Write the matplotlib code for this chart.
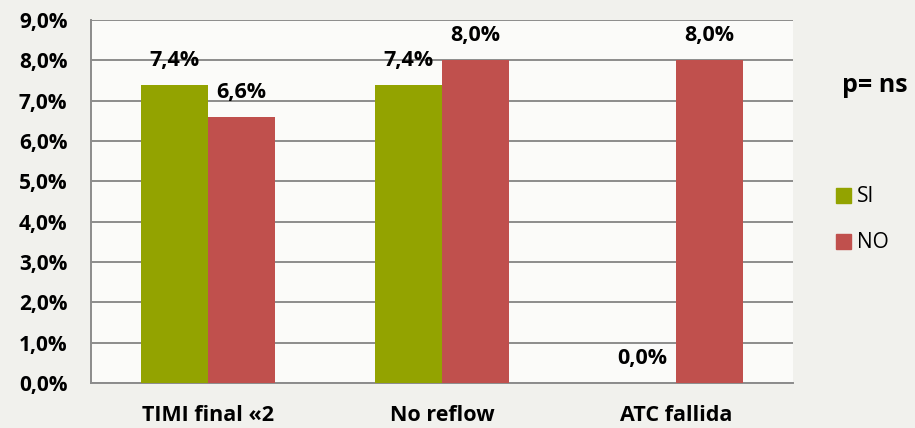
import numpy as np
import matplotlib
matplotlib.use("Agg")
import matplotlib.pyplot as plt
from matplotlib.patches import Patch

categories = ["TIMI final «2", "No reflow", "ATC fallida"]
si_values = [7.4, 7.4, 0.0]
no_values = [6.6, 8.0, 8.0]
series_names = ["SI", "NO"]
y_ticks = [0, 1, 2, 3, 4, 5, 6, 7, 8, 9]

GREEN = "#93A300"
RED = "#C0504D"

plt.rcParams["font.family"] = ["Open Sans", "DejaVu Sans"]

fig = plt.figure(figsize=(9.15, 4.28), dpi=100)
fig.patch.set_facecolor("#f1f1ed")
ax = fig.add_axes([91 / 915, 1 - 383 / 428, 702 / 915, 363 / 428])
ax.set_facecolor("#fbfbf9")

x = np.arange(len(categories))
w = 0.286
bars_si = ax.bar(x - w / 2, si_values, w, color=GREEN, zorder=3)
bars_no = ax.bar(x + w / 2, no_values, w, color=RED, zorder=3)

def fmt(v):
    return f"{v:.1f}%".replace(".", ",")

for bars, vals in ((bars_si, si_values), (bars_no, no_values)):
    for b, v in zip(bars, vals):
        ax.annotate(fmt(v), (b.get_x() + b.get_width() / 2, v),
                    xytext=(0, 10), textcoords="offset points",
                    ha="center", va="bottom", fontsize=15.5, fontweight="bold")

ax.set_xlim(-0.5, len(categories) - 0.5)
ax.set_ylim(0, 9)
ax.set_yticks(y_ticks)
ax.set_yticklabels([fmt(t) for t in y_ticks], fontsize=15, fontweight="bold")
ax.set_xticks(x)
ax.set_xticklabels(categories, fontsize=15.5, fontweight="bold")
ax.tick_params(axis="y", length=0, pad=17)
ax.tick_params(axis="x", length=0, pad=16)
ax.grid(axis="y", color="#8c8c8c", linewidth=1.4, zorder=0)
for s in ("top", "right"):
    ax.spines[s].set_visible(False)
for s in ("left", "bottom"):
    ax.spines[s].set_color("#8c8c8c")
    ax.spines[s].set_linewidth(1.4)

handles = [Patch(color=GREEN), Patch(color=RED)]
fig.legend(handles, series_names, loc="center left",
           bbox_to_anchor=(836 / 915, 1 - 220 / 428), frameon=False,
           borderpad=0, borderaxespad=0,
           fontsize=15, handlelength=0.72, handleheight=0.72,
           handletextpad=0.3, labelspacing=1.2)

fig.text(842 / 915, 1 - 85 / 428, "p= ns", fontsize=18, fontweight="bold",
         va="center", ha="left")

fig.savefig("out.png", dpi=100, facecolor=fig.get_facecolor())
